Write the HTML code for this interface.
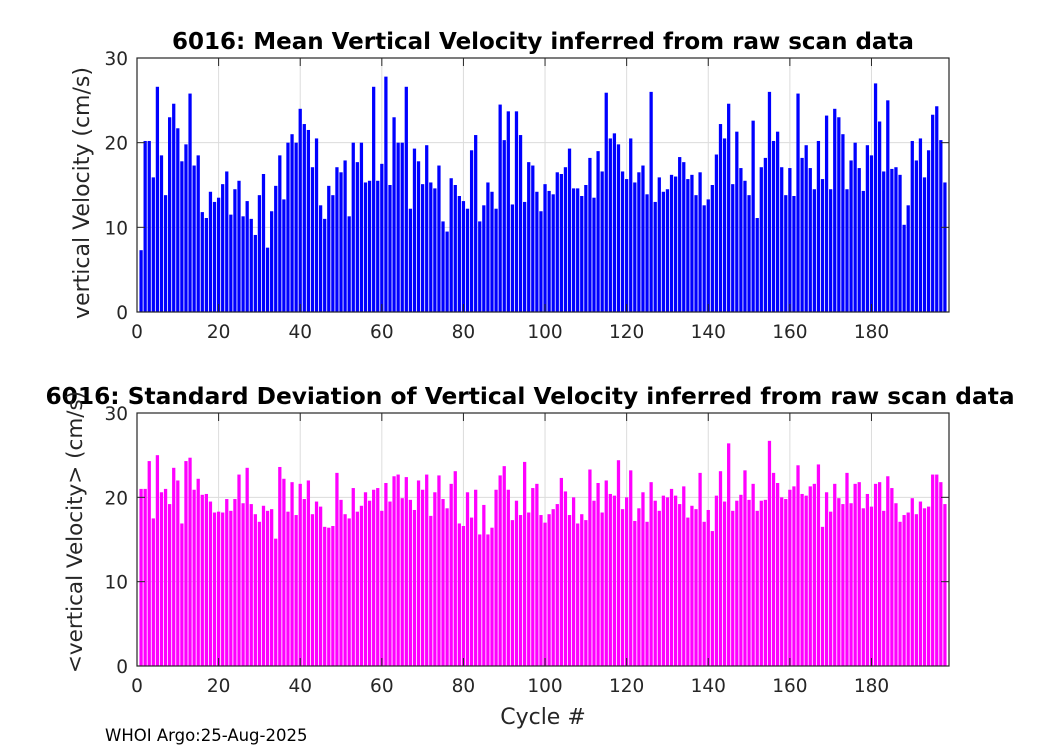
<!DOCTYPE html>
<html><head><meta charset="utf-8"><style>
body{margin:0;background:#fff;}
svg text{font-family:"DejaVu Sans","Liberation Sans",sans-serif;fill:#262626;}
</style></head><body>
<svg id="fig" width="1050" height="750" xmlns="http://www.w3.org/2000/svg">
<rect width="1050" height="750" fill="#fff"/>
<g id="top"></g>
<g id="bot"></g>
<text x="543" y="49" text-anchor="middle" font-size="23" font-weight="bold" style="fill:#000">6016: Mean Vertical Velocity inferred from raw scan data</text>
<text x="530" y="404" text-anchor="middle" font-size="23.3" font-weight="bold" style="fill:#000">6016: Standard Deviation of Vertical Velocity inferred from raw scan data</text>
<text transform="translate(89,193) rotate(-90)" text-anchor="middle" font-size="22">vertical Velocity (cm/s)</text>
<text transform="translate(82,532) rotate(-90)" text-anchor="middle" font-size="21.5">&lt;vertical Velocity&gt; (cm/s)</text>
<text x="543" y="724" text-anchor="middle" font-size="22">Cycle #</text>
<text x="105" y="741" font-size="16.5" style="fill:#000">WHOI Argo:25-Aug-2025</text>
</svg>
<script>
const meanVel=[7.3,20.2,20.2,15.9,26.6,18.5,13.8,23.0,24.6,21.7,17.8,19.8,25.8,17.3,18.5,11.8,11.1,14.2,13.0,13.5,15.1,16.6,11.5,14.5,15.5,11.3,13.1,11.0,9.1,13.8,16.3,7.6,11.9,14.9,18.5,13.3,20.0,21.0,20.0,24.0,22.2,21.5,17.1,20.5,12.6,11.0,14.9,13.8,17.1,
16.5,17.9,11.3,20.0,17.7,20.0,15.3,15.5,26.6,15.5,17.5,27.8,15.0,23.0,20.0,20.0,26.6,12.2,19.3,17.8,15.1,19.7,15.3,14.6,17.3,10.7,9.5,15.8,15.0,13.7,13.1,12.2,19.1,20.9,10.7,12.6,15.3,14.2,12.2,24.5,20.3,23.7,12.7,23.7,20.9,13.0,17.7,17.3,14.2,11.9,15.1,
14.3,13.9,16.5,16.3,17.1,19.3,14.6,14.6,13.7,15.0,18.2,13.5,19.0,16.6,25.9,20.5,21.1,19.8,16.6,15.7,20.5,15.3,16.5,17.3,13.9,26.0,13.0,15.9,14.2,14.5,16.2,16.0,18.3,17.7,15.7,16.2,13.8,16.5,12.6,13.3,15.0,18.6,22.2,20.5,24.6,15.1,21.3,17.0,15.5,
13.8,22.6,11.1,17.1,18.2,26.0,20.2,21.3,17.1,13.8,17.0,13.7,25.8,18.2,19.7,17.0,14.5,20.2,15.7,23.2,14.5,24.0,23.0,21.0,14.5,17.9,20.0,17.0,14.3,19.7,18.5,27.0,22.5,16.6,25.0,16.9,17.1,16.2,10.3,12.6,20.2,17.9,20.5,15.9,19.1,23.3,24.3,20.3,15.3];
const stdVel=[21.0,21.0,24.3,17.5,25.0,20.6,21.0,19.2,23.5,22.0,16.9,24.3,24.7,20.9,22.2,20.3,20.4,19.5,18.2,18.3,18.2,19.8,18.4,19.8,22.7,19.3,23.5,19.2,18.0,17.1,19.0,18.4,18.6,15.1,23.6,22.2,18.3,21.8,17.9,21.6,19.8,22.0,18.0,19.5,18.9,16.5,16.4,16.6,22.9,
19.7,18.0,17.5,21.1,18.3,19.0,20.6,19.6,20.9,21.1,18.4,21.7,19.5,22.5,22.7,19.9,22.4,19.7,18.5,22.0,20.9,22.7,17.8,20.6,22.6,19.8,18.7,21.6,23.1,16.9,16.6,20.6,17.6,20.9,15.6,19.1,15.6,16.4,20.9,22.6,23.7,20.9,17.3,19.6,17.9,24.2,18.2,21.1,21.6,17.9,17.0,
18.0,18.6,19.2,22.3,20.7,17.9,20.0,16.9,18.0,17.3,23.3,19.6,21.7,18.2,22.0,20.4,20.2,24.4,18.6,20.0,23.2,17.2,18.7,20.6,17.1,21.8,19.6,18.4,20.2,20.0,21.0,20.2,19.2,21.3,17.6,19.0,18.6,22.9,17.1,18.5,16.0,20.2,23.1,19.5,26.4,18.4,19.6,20.3,23.2,19.7,
21.6,18.4,19.6,19.7,26.7,22.9,21.7,20.0,19.8,20.9,21.3,23.8,20.4,20.2,21.3,21.6,23.9,16.5,20.6,18.3,21.6,19.9,19.2,22.9,19.3,21.6,21.8,18.7,20.4,18.9,21.6,21.8,18.4,22.5,21.1,19.3,17.1,17.9,18.2,19.9,18.0,19.5,18.7,18.9,22.7,22.7,21.8,19.2];
const xTicks=[0,20,40,60,80,100,120,140,160,180];
const yTicks=[0,10,20,30];
const NS='http://www.w3.org/2000/svg';
function mk(tag,attrs,parent){const e=document.createElementNS(NS,tag);for(const k in attrs)e.setAttribute(k,attrs[k]);parent.appendChild(e);return e;}
function draw(g,vals,color,top,bottom,pfx){
  const L=137,R=949,XMAX=199,YMAX=30;
  const xs=v=>L+(R-L)*v/XMAX, ys=v=>bottom-(bottom-top)*v/YMAX;
  for(const t of xTicks){if(t===0)continue;const l=mk('line',{x1:xs(t),x2:xs(t),y1:top,y2:bottom,stroke:'#dcdcdc','stroke-width':1},g);
    
    }
  for(const t of yTicks){if(t===0||t===30)continue;const l=mk('line',{x1:L,x2:R,y1:ys(t),y2:ys(t),stroke:'#dcdcdc','stroke-width':1},g);
    
    }
  const bw=(R-L)/XMAX*0.8;
  vals.forEach((v,i)=>{const c=i+1;const r=mk('rect',{x:xs(c)-bw/2,y:ys(v),width:bw,height:bottom-ys(v),fill:color},g);
    
    });
  const box=mk('rect',{x:L,y:top,width:R-L,height:bottom-top,fill:'none',stroke:'#262626','stroke-width':1.2},g);
  
  
  for(const t of xTicks){const x=xs(t);
    mk('line',{x1:x,x2:x,y1:bottom,y2:bottom-8,stroke:'#262626'},g);mk('line',{x1:x,x2:x,y1:top,y2:top+8,stroke:'#262626'},g);
    const tx=mk('text',{x:x,y:bottom+26,'text-anchor':'middle','font-size':18.5},g);tx.textContent=t;
    
    }
  for(const t of yTicks){const y=ys(t);
    mk('line',{x1:L,x2:L+8,y1:y,y2:y,stroke:'#262626'},g);mk('line',{x1:R,x2:R-8,y1:y,y2:y,stroke:'#262626'},g);
    const tx=mk('text',{x:L-9,y:y+7,'text-anchor':'end','font-size':18.5},g);tx.textContent=t;
    
    }
}
draw(document.getElementById('top'),meanVel,'#0000ff',58,312,'mean');
draw(document.getElementById('bot'),stdVel,'#ff00ff',413,666,'std');
</script>
</body></html>
